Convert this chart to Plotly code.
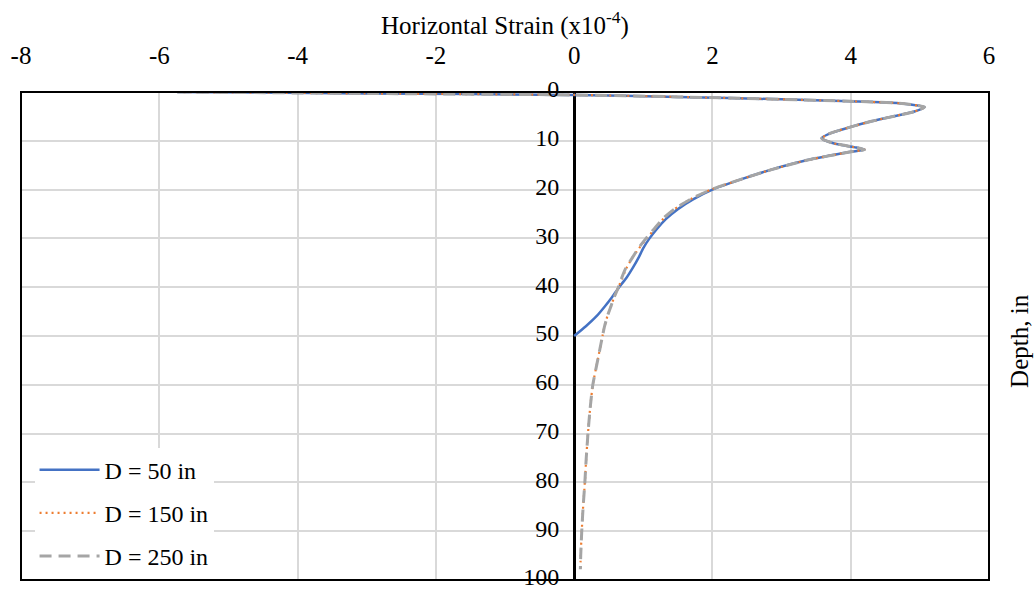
import plotly.graph_objects as go

# Depth (in) and horizontal strain (x10^-4)
depth_50 = [0, 0.3, 0.6, 1.0, 1.5, 1.9, 2.3, 3.1, 4.0, 4.7, 6.0, 7.2, 8.5, 9.5, 10.5, 11.3, 11.8,
            12.3, 14, 16, 18, 20, 22, 24, 26, 28, 30, 32, 34, 36, 38, 40, 42, 44, 46, 48, 50]
strain_50 = [-5.74, -3.0, 0.0, 1.5, 3.0, 4.0, 4.7, 5.07, 4.92, 4.71, 4.3, 3.99, 3.7, 3.58, 3.75, 4.05, 4.2,
             3.98, 3.36, 2.83, 2.39, 2.0, 1.72, 1.5, 1.33, 1.2, 1.09, 1.0, 0.93, 0.85, 0.76, 0.65, 0.55,
             0.44, 0.32, 0.17, 0.0]

depth_150 = [0, 0.3, 0.6, 1.0, 1.5, 1.9, 2.3, 3.1, 4.0, 4.7, 6.0, 7.2, 8.5, 9.5, 10.5, 11.3, 11.8,
             12.3, 14, 16, 18, 20, 22, 24, 26, 28, 30, 32, 34, 36, 38, 40, 42, 44, 46, 48, 50,
             55, 60, 65, 70, 75, 80, 85, 90, 95, 97.8]
strain_150 = [-5.74, -3.0, 0.0, 1.5, 3.0, 4.0, 4.7, 5.07, 4.92, 4.71, 4.3, 3.99, 3.7, 3.58, 3.75, 4.05, 4.2,
              3.98, 3.36, 2.83, 2.39, 1.98, 1.68, 1.45, 1.29, 1.17, 1.05, 0.94, 0.84, 0.76, 0.7, 0.64,
              0.58, 0.53, 0.48, 0.44, 0.41, 0.34, 0.27, 0.23, 0.2, 0.175, 0.155, 0.13, 0.11, 0.095, 0.09]

depth_250 = list(depth_150)
strain_250 = [-5.74, -3.0, 0.0, 1.5, 3.0, 4.0, 4.7, 5.07, 4.92, 4.71, 4.3, 3.99, 3.7, 3.58, 3.75, 4.05, 4.2,
              3.98, 3.36, 2.83, 2.39, 1.98, 1.68, 1.45, 1.28, 1.16, 1.04, 0.93, 0.84, 0.75, 0.69, 0.64,
              0.58, 0.53, 0.48, 0.44, 0.41, 0.34, 0.27, 0.23, 0.2, 0.175, 0.155, 0.13, 0.11, 0.095, 0.09]

names = ["D = 50 in", "D = 150 in", "D = 250 in"]
x_ticks = [-8, -6, -4, -2, 0, 2, 4, 6]
y_ticks = [0, 10, 20, 30, 40, 50, 60, 70, 80, 90, 100]

FONT = "Liberation Serif, Times New Roman, serif"
FS = 25

fig = go.Figure()
fig.add_trace(go.Scatter(x=strain_50, y=depth_50, mode="lines", name=names[0], legendgroup="a",
                         line=dict(color="#4472C4", width=2.5, shape="spline", smoothing=0.6)))
fig.add_trace(go.Scatter(x=strain_150, y=depth_150, mode="lines", name=names[1], legendgroup="b",
                         line=dict(color="#ED7D31", width=2.2, dash="2px,4px", shape="spline", smoothing=0.6)))
fig.add_trace(go.Scatter(x=strain_250, y=depth_250, mode="lines", name=names[2], legendgroup="c",
                         line=dict(color="#A5A5A5", width=3, dash="12px,7px", shape="spline", smoothing=0.6)))

fig.update_layout(
    width=1035, height=592,
    margin=dict(l=21, r=46, t=92, b=12),
    paper_bgcolor="white", plot_bgcolor="white",
    font=dict(family=FONT, size=FS, color="black"),
    showlegend=True,
    legend=dict(x=0.014, y=0.003, xanchor="left", yanchor="bottom",
                bgcolor="white", borderwidth=0, font=dict(size=FS - 1),
                tracegroupgap=9, itemwidth=60),
    xaxis=dict(range=[-8, 6], side="top", tickvals=x_ticks,
               ticktext=[str(v) for v in x_ticks], automargin=False,
               showgrid=True, gridcolor="#D9D9D9", gridwidth=1.5,
               zeroline=True, zerolinecolor="black", zerolinewidth=2.5,
               ticks="outside", ticklen=17, tickcolor="rgba(0,0,0,0)",
               showline=False,
               title=dict(text="Horizontal Strain (x10<sup>-4</sup>)", standoff=0,
                          font=dict(size=FS))),
    yaxis=dict(range=[100, 0], tickvals=y_ticks, ticktext=[str(v) for v in y_ticks],
               anchor="free", position=8 / 14, side="left", automargin=False,
               showgrid=True, gridcolor="#D9D9D9", gridwidth=1.5,
               zeroline=False, showline=False, ticklabeloverflow="allow",
               ticklabelshift=3, tickfont=dict(size=FS - 1),
               ticks="outside", ticklen=10, tickcolor="rgba(0,0,0,0)"),
    shapes=[dict(type="rect", xref="paper", yref="paper", x0=0, x1=1, y0=0, y1=1,
                 line=dict(color="black", width=2), layer="above")],
    annotations=[dict(text="Depth, in", xref="paper", yref="paper", x=1.0, y=0.49,
                      xanchor="center", yanchor="middle", xshift=31, textangle=-90,
                      showarrow=False, font=dict(size=FS))],
)

fig.write_html("out.html")
